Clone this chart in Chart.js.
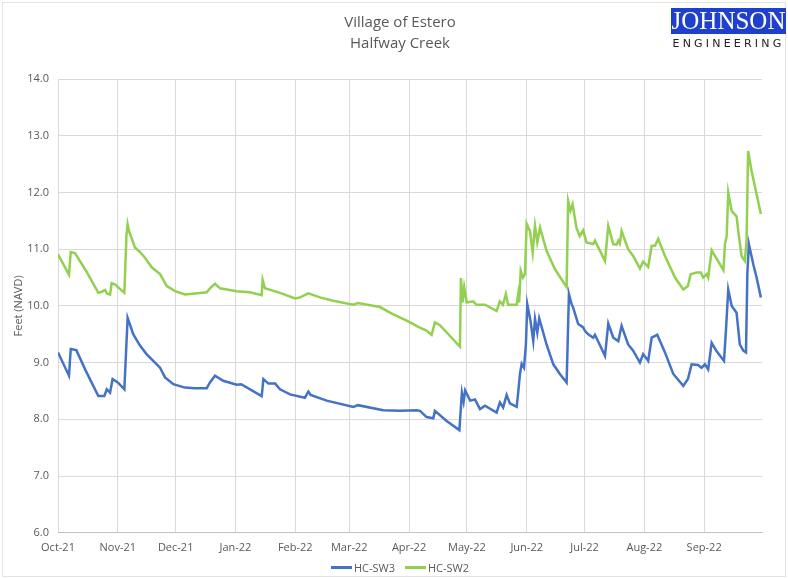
<!DOCTYPE html>
<html>
<head>
<meta charset="utf-8">
<script src="https://cdn.jsdelivr.net/npm/chart.js@4/dist/chart.umd.min.js"></script>
<style>
  html, body { margin: 0; padding: 0; background: #fff; }
  #wrap { position: relative; width: 788px; height: 579px; }
  #frame { position: absolute; left: 2px; top: 2px; right: 2px; bottom: 2px; border: 1px solid #e3e3e3; pointer-events: none; }
  #logo { position: absolute; left: 671px; top: 8px; width: 115px; }
  #logo .box { background: #1f3fcf; color: #fff; font-family: "Liberation Serif", "DejaVu Serif", serif; font-size: 25px; line-height: 26px; height: 26px; text-align: center; }
  #logo .sub { font-family: "DejaVu Sans", sans-serif; font-size: 11px; letter-spacing: 3.2px; color: #222; text-align: center; margin-top: 3px; }
  #legend { position: absolute; left: 0; width: 800px; top: 560px; display: flex; justify-content: center; font-family: "Open Sans", sans-serif; font-size: 11px; color: #595959; line-height: 15px; }
  #legend .item { display: flex; align-items: center; margin: 0 5px; }
  #legend .swatch { width: 21px; height: 3px; margin-right: 2px; }
</style>
</head>
<body>
<div id="wrap">
  <canvas id="chart" width="788" height="579"></canvas>
  <div id="frame"></div>
  <div id="logo"><div class="box">JOHNSON</div><div class="sub">ENGINEERING</div></div>
  <div id="legend"></div>
</div>
<script>
// days counted from 1 Oct 2021
const monthDays = [0, 31, 61, 92, 123, 151, 182, 212, 243, 273, 304, 335]
const monthLabels = ["Oct-21", "Nov-21", "Dec-21", "Jan-22", "Feb-22", "Mar-22", "Apr-22", "May-22", "Jun-22", "Jul-22", "Aug-22", "Sep-22"]

// HC-SW3 (blue)
const sw3Days = [0, 5.7, 6.6, 9.5, 14.5, 20.9, 24, 25.3, 27, 28.3, 31, 34.4, 35.3, 36.1, 39, 42.5, 45.9, 50.3, 52.9, 55.5, 59.8, 65.8, 71, 77.1, 78.8, 81.4, 85.7, 92.6, 95, 105.6, 106.5, 109.1, 112.6, 115.1, 120.3, 128, 129.8, 131, 139.3, 153.1, 155.5, 168.6, 177.3, 186, 187.7, 191.1, 194.6, 195.4, 201.5, 208.1, 209.4, 210.3, 211.1, 213.7, 216.2, 218.8, 221.4, 227.4, 229.1, 230.8, 232.6, 234.3, 237.8, 238.6, 239.5, 240.4, 241.6, 242.6, 243.3, 245, 246.4, 247.3, 248.5, 249.5, 253.3, 256.8, 260.2, 263.7, 264.9, 266.3, 267.1, 269.7, 272.3, 273.2, 274.9, 277.5, 278.4, 283.6, 285.3, 287.9, 290.5, 292.2, 295.6, 298.2, 301.7, 303.4, 306, 307.8, 310.7, 314.7, 319, 324.2, 326.6, 328.5, 331.8, 333.7, 335.4, 337.1, 338.9, 341.5, 345.3, 346.3, 347.5, 349.3, 351.8, 353.5, 355.3, 356.7, 357.4, 358.2, 360.5, 362.2, 364.4]
const sw3Values = [9.18, 8.77, 9.24, 9.22, 8.85, 8.41, 8.41, 8.53, 8.47, 8.71, 8.65, 8.53, 9.2, 9.79, 9.50, 9.30, 9.15, 9.0, 8.91, 8.74, 8.62, 8.56, 8.55, 8.55, 8.65, 8.77, 8.68, 8.61, 8.62, 8.41, 8.71, 8.63, 8.63, 8.53, 8.44, 8.38, 8.49, 8.43, 8.33, 8.22, 8.25, 8.16, 8.15, 8.16, 8.15, 8.04, 8.02, 8.15, 7.97, 7.81, 8.47, 8.31, 8.51, 8.33, 8.35, 8.18, 8.24, 8.12, 8.30, 8.21, 8.43, 8.28, 8.22, 8.47, 8.80, 8.98, 8.91, 9.32, 10.03, 9.73, 9.38, 9.77, 9.53, 9.78, 9.32, 8.97, 8.80, 8.65, 10.21, 10.03, 9.97, 9.68, 9.62, 9.56, 9.50, 9.44, 9.49, 9.12, 9.69, 9.44, 9.38, 9.65, 9.32, 9.21, 9.0, 9.15, 9.03, 9.44, 9.49, 9.18, 8.80, 8.59, 8.71, 8.97, 8.96, 8.91, 8.97, 8.88, 9.35, 9.2, 9.03, 9.56, 10.29, 10.0, 9.88, 9.32, 9.21, 9.18, 10.56, 11.09, 10.73, 10.50, 10.15]

// HC-SW2 (green)
const sw2Days = [0, 5.7, 6.6, 8.8, 14.5, 20.9, 22.8, 24.4, 25.4, 27, 27.8, 29.5, 31.1, 34.4, 35.5, 36.1, 36.8, 39.9, 42.5, 45.1, 48.6, 52.9, 56.4, 60.7, 65.8, 71, 77.1, 78.8, 81.4, 84, 92.6, 99.5, 105.6, 106.1, 107.3, 115.1, 122.9, 125.5, 129.8, 135.8, 142.7, 153.1, 155.5, 166.9, 173.8, 180.8, 186.8, 190.8, 193.7, 195.4, 198, 208.4, 208.9, 209.8, 210.6, 211.9, 215.3, 217, 221.4, 227.4, 229.1, 230.7, 232.2, 233.4, 237.8, 238.6, 239.1, 239.9, 241.1, 242.1, 243, 244.7, 246.1, 247.3, 248.5, 249.9, 253.3, 257.6, 263.7, 264.5, 265.7, 266.8, 268.8, 270.5, 272.3, 274, 277.5, 278.4, 283.6, 285.3, 287.9, 289.6, 290.5, 291.3, 292.2, 295.6, 298.2, 301.7, 303.4, 306, 307.8, 309.5, 311.2, 314.7, 319.9, 324.2, 326.6, 328, 331.1, 333.3, 334.5, 336.3, 337.1, 338.9, 340.6, 345, 345.8, 346.7, 347.5, 349.3, 351.8, 352.7, 354.4, 356.1, 357, 357.8, 359.6, 362.2, 364.4]
const sw2Values = [10.91, 10.55, 10.95, 10.93, 10.62, 10.23, 10.25, 10.28, 10.22, 10.2, 10.40, 10.38, 10.33, 10.23, 11.25, 11.44, 11.32, 11.03, 10.95, 10.85, 10.68, 10.56, 10.35, 10.26, 10.2, 10.22, 10.24, 10.31, 10.39, 10.31, 10.26, 10.24, 10.19, 10.46, 10.31, 10.23, 10.13, 10.15, 10.22, 10.15, 10.09, 10.02, 10.05, 9.98, 9.85, 9.74, 9.63, 9.57, 9.49, 9.71, 9.66, 9.28, 10.49, 10.06, 10.33, 10.06, 10.08, 10.02, 10.02, 9.91, 10.08, 10.02, 10.21, 10.02, 10.02, 10.21, 10.06, 10.62, 10.5, 10.56, 11.45, 11.32, 10.94, 11.41, 11.12, 11.38, 10.97, 10.65, 10.33, 11.85, 11.68, 11.79, 11.38, 11.23, 11.33, 11.12, 11.09, 11.15, 10.79, 11.41, 11.09, 11.08, 11.15, 11.1, 11.32, 11.0, 10.88, 10.66, 10.78, 10.69, 11.06, 11.06, 11.18, 10.88, 10.5, 10.29, 10.35, 10.56, 10.59, 10.59, 10.5, 10.56, 10.5, 10.98, 10.88, 10.63, 11.09, 11.23, 12.0, 11.67, 11.58, 11.32, 10.88, 10.79, 11.15, 12.73, 12.38, 11.97, 11.62]

const toPoints = (days, vals) => days.map((d, i) => ({ x: d, y: vals[i] }))

const grey = "#595959"
const chart = new Chart(document.getElementById("chart"), {
    type: "line",
    data: {
        datasets: [
            { label: "HC-SW3", data: toPoints(sw3Days, sw3Values), borderColor: "#4472c4", backgroundColor: "#4472c4", borderWidth: 2.5, pointRadius: 0, tension: 0 },
            { label: "HC-SW2", data: toPoints(sw2Days, sw2Values), borderColor: "#92d050", backgroundColor: "#92d050", borderWidth: 2.5, pointRadius: 0, tension: 0 }
        ]
    },
    options: {
        responsive: false,
        animation: false,
        layout: { padding: { left: 12, right: 0, top: 0, bottom: 17 } },
        plugins: {
            title: {
                display: true,
                text: ["Village of Estero", "Halfway Creek"],
                color: grey,
                font: { family: "Open Sans", size: 15, weight: "normal", lineHeight: 1.4 },
                padding: { top: 12, bottom: 25 }
            },
            // legend is written as html below the canvas
            legend: { display: false },
            tooltip: { enabled: false }
        },
        scales: {
            x: {
                type: "linear",
                min: 0,
                max: 365,
                afterBuildTicks: axis => { axis.ticks = monthDays.map(v => ({ value: v })) },
                ticks: {
                    color: grey,
                    font: { family: "Open Sans", size: 11 },
                    maxRotation: 0,
                    autoSkip: false,
                    padding: 8,
                    callback: (v) => monthLabels[monthDays.indexOf(v)]
                },
                grid: { color: "#d9d9d9", drawTicks: false },
                border: { color: "#bfbfbf" }
            },
            y: {
                min: 6,
                max: 14,
                ticks: {
                    stepSize: 1,
                    color: grey,
                    font: { family: "Open Sans", size: 11 },
                    padding: 9,
                    callback: v => v.toFixed(1)
                },
                title: { display: true, text: "Feet (NAVD)", color: grey, font: { family: "Open Sans", size: 11 }, padding: { top: 0, bottom: 0 } },
                grid: { color: "#d9d9d9", drawTicks: false },
                border: { display: false },
                afterFit: scale => { scale.width = 46 }
            },
            // empty right margin so the title centres like the original
            spacer: {
                position: "right",
                min: 0,
                max: 1,
                grid: { display: false },
                ticks: { display: false },
                border: { display: false },
                afterFit: scale => { scale.width = 26 }
            }
        }
    }
})

const legendBox = document.getElementById("legend")
chart.data.datasets.forEach(ds => {
    const item = document.createElement("div")
    item.className = "item"
    const swatch = document.createElement("span")
    swatch.className = "swatch"
    swatch.style.background = ds.borderColor
    const label = document.createElement("span")
    label.innerText = ds.label
    item.appendChild(swatch)
    item.appendChild(label)
    legendBox.appendChild(item)
})
</script>
</body>
</html>
